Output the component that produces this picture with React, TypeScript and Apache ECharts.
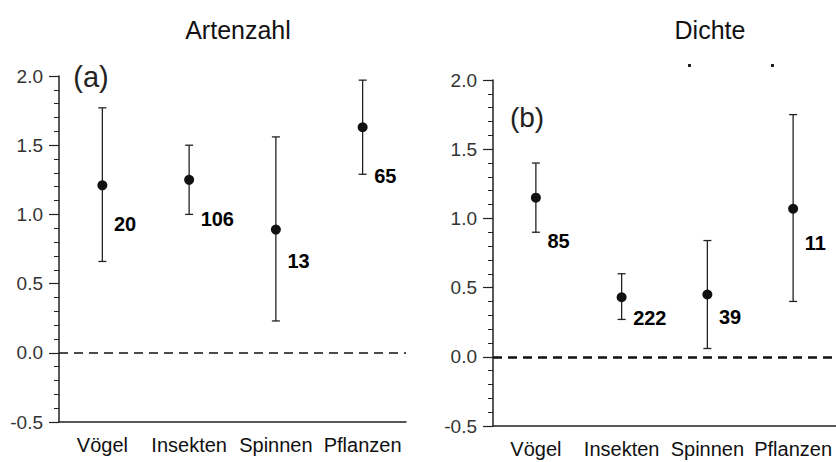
import React, { useEffect, useRef } from "react";
import * as echarts from "echarts";

const categories = ["Vögel", "Insekten", "Spinnen", "Pflanzen"];

// Panel (a) Artenzahl
const meanA = [1.21, 1.25, 0.89, 1.63];
const lowA = [0.66, 1.0, 0.23, 1.29];
const highA = [1.77, 1.5, 1.56, 1.97];
const nA = [20, 106, 13, 65];
const nAnchorA = [0.93, 0.97, 0.66, 1.28];

// Panel (b) Dichte
const meanB = [1.15, 0.43, 0.45, 1.07];
const lowB = [0.9, 0.27, 0.06, 0.4];
const highB = [1.4, 0.6, 0.84, 1.75];
const nB = [85, 222, 39, 11];
const nAnchorB = [0.84, 0.28, 0.29, 0.82];

const yTicksMin = -0.5;
const yTicksMax = 2.0;
const yTickStep = 0.5;

const FONT = "Liberation Sans, Arial, sans-serif";

function makeAxes(gridIndex: number) {
  const xAxis = {
    type: "category",
    gridIndex,
    data: categories,
    boundaryGap: true,
    axisLine: { onZero: false, lineStyle: { color: "#222", width: 1.5 } },
    axisTick: { show: false },
    axisLabel: { color: "#111", fontSize: 20, fontFamily: FONT, margin: 13, interval: 0 },
    splitLine: { show: false },
  };
  const yAxis = {
    type: "value",
    gridIndex,
    min: yTicksMin,
    max: yTicksMax,
    interval: yTickStep,
    axisLine: { show: true, lineStyle: { color: "#222", width: 1.5 } },
    axisTick: { show: true, length: 10, lineStyle: { color: "#222", width: 1.2 } },
    minorTick: { show: true, splitNumber: 5, length: 5, lineStyle: { color: "#222", width: 1 } },
    axisLabel: {
      color: "#333",
      fontSize: 19,
      fontFamily: FONT,
      margin: 16,
      formatter: (v: number) => v.toFixed(1),
    },
    splitLine: { show: false },
  };
  return { xAxis, yAxis };
}

function errorSeries(idx: number, lows: number[], highs: number[]) {
  return {
    type: "custom",
    xAxisIndex: idx,
    yAxisIndex: idx,
    data: categories.map((_, i) => [i, lows[i], highs[i]]),
    encode: { x: 0, y: [1, 2] },
    renderItem: (params: any, api: any) => {
      const x = api.value(0);
      const lo = api.coord([x, api.value(1)]);
      const hi = api.coord([x, api.value(2)]);
      const w = 4;
      const style = { stroke: "#222", lineWidth: 1.3 };
      return {
        type: "group",
        children: [
          { type: "line", shape: { x1: lo[0], y1: lo[1], x2: hi[0], y2: hi[1] }, style },
          { type: "line", shape: { x1: lo[0] - w, y1: lo[1], x2: lo[0] + w, y2: lo[1] }, style },
          { type: "line", shape: { x1: hi[0] - w, y1: hi[1], x2: hi[0] + w, y2: hi[1] }, style },
        ],
      };
    },
    z: 2,
  };
}

function meanSeries(idx: number, means: number[], dashWidth: number, dash: number[]) {
  return {
    type: "scatter",
    xAxisIndex: idx,
    yAxisIndex: idx,
    data: means.map((v, i) => [i, v]),
    symbol: "circle",
    symbolSize: 10,
    itemStyle: { color: "#111", opacity: 1 },
    z: 3,
    markLine: {
      silent: true,
      symbol: "none",
      label: { show: false },
      lineStyle: { type: dash, color: "#111", width: dashWidth, opacity: 1 },
      data: [{ yAxis: 0 }],
    },
  };
}

function countSeries(idx: number, anchors: number[], counts: number[]) {
  return {
    type: "scatter",
    xAxisIndex: idx,
    yAxisIndex: idx,
    data: anchors.map((v, i) => [i, v]),
    symbolSize: 1,
    itemStyle: { color: "rgba(0,0,0,0)" },
    label: {
      show: true,
      position: "right",
      distance: 11,
      color: "#000",
      opacity: 1,
      fontSize: 20,
      fontWeight: "bold",
      fontFamily: FONT,
      formatter: (p: any) => String(counts[p.dataIndex]),
    },
    z: 4,
  };
}

export default function App() {
  const ref = useRef<HTMLDivElement>(null);
  useEffect(() => {
    if (!ref.current) return;
    const chart = echarts.init(ref.current, null, { renderer: "svg" });
    const a = makeAxes(0);
    const b = makeAxes(1);
    chart.setOption({
      animation: false,
      backgroundColor: "#ffffff",
      grid: [
        { left: 59, top: 76, width: 347, height: 346 },
        { left: 493, top: 80, width: 348, height: 346 },
      ],
      xAxis: [a.xAxis, b.xAxis],
      yAxis: [a.yAxis, b.yAxis],
      graphic: [
        {
          type: "text",
          x: 238,
          y: 30,
          style: { text: "Artenzahl", fontSize: 25, fontFamily: FONT, fill: "#111", align: "center", verticalAlign: "middle" },
        },
        {
          type: "text",
          x: 710,
          y: 30,
          style: { text: "Dichte", fontSize: 25, fontFamily: FONT, fill: "#111", align: "center", verticalAlign: "middle" },
        },
        {
          type: "text",
          x: 91,
          y: 77,
          style: { text: "(a)", fontSize: 29, fontFamily: FONT, fill: "#222", align: "center", verticalAlign: "middle" },
        },
        {
          type: "text",
          x: 527,
          y: 117,
          style: { text: "(b)", fontSize: 28, fontFamily: FONT, fill: "#222", align: "center", verticalAlign: "middle" },
        },
        { type: "rect", shape: { x: 688, y: 64, width: 3, height: 3 }, style: { fill: "#222" } },
        { type: "rect", shape: { x: 771, y: 64, width: 3, height: 3 }, style: { fill: "#222" } },
      ],
      series: [
        errorSeries(0, lowA, highA),
        meanSeries(0, meanA, 1.5, [9, 6]),
        countSeries(0, nAnchorA, nA),
        errorSeries(1, lowB, highB),
        meanSeries(1, meanB, 2.5, [9, 6]),
        countSeries(1, nAnchorB, nB),
      ],
    });
    return () => chart.dispose();
  }, []);
  return (
    <div
      ref={ref}
      style={{ position: "fixed", left: 0, top: 0, width: 836, height: 462, background: "#fff" }}
    />
  );
}
